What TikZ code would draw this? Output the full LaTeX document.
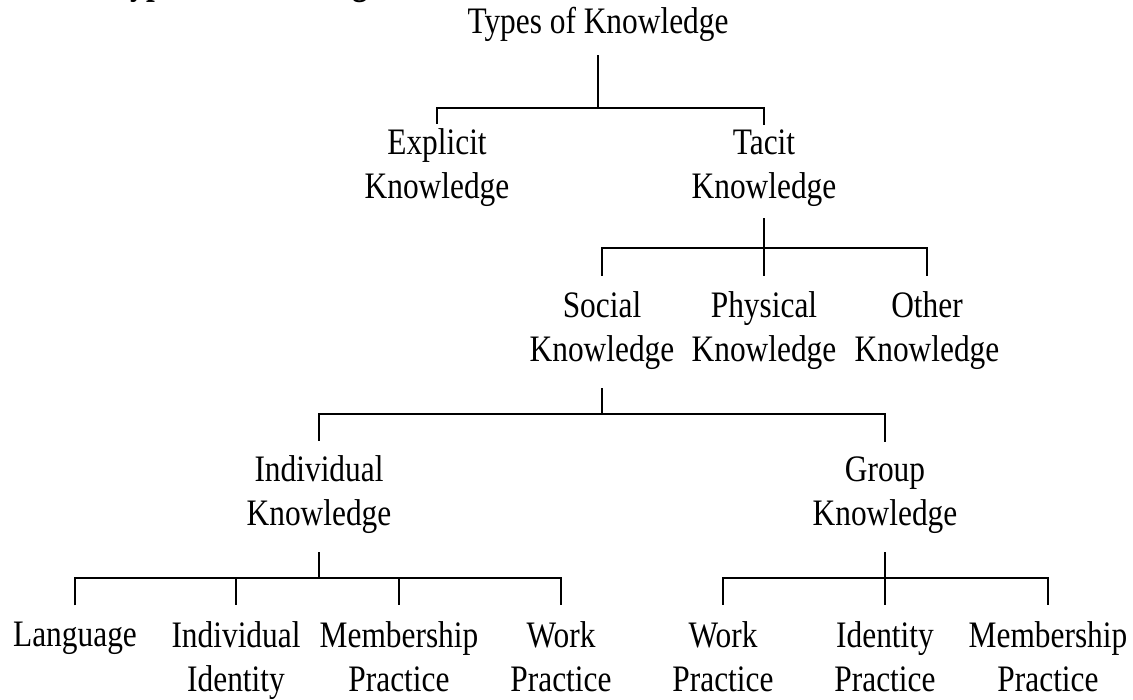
\documentclass[tikz,border=0pt]{standalone}
\usepackage{fontspec}
\setmainfont[FakeStretch=0.84]{Liberation Serif}
\usepackage{tikz}
\usetikzlibrary{calc}

\tikzset{
  lbl/.style={inner sep=0pt, anchor=base, align=center,
    font=\fontsize{37.5pt}{44.2pt}\selectfont},
  branch/.style={line width=2.5bp, line join=miter, line cap=butt},
}

\begin{document}
\begin{tikzpicture}[line join=bevel,]
%%
\clip[use as bounding box] (0bp,0bp) rectangle (1133bp,700bp);
\node (caption) at (112bp,705bp) [lbl, anchor=base west, font=\fontsize{37.5pt}{44.2pt}\selectfont\bfseries] {Types of Knowledge};
  \node (root) at (598bp,666bp) [lbl] {Types of Knowledge};
  \node (explicit) at (437bp,501bp) [lbl] {Explicit\\Knowledge};
  \node (tacit) at (764bp,501bp) [lbl] {Tacit\\Knowledge};
  \node (social) at (602bp,338bp) [lbl] {Social\\Knowledge};
  \node (physical) at (764bp,338bp) [lbl] {Physical\\Knowledge};
  \node (other) at (927bp,338bp) [lbl] {Other\\Knowledge};
  \node (indiv) at (319bp,174bp) [lbl] {Individual\\Knowledge};
  \node (group) at (885bp,174bp) [lbl] {Group\\Knowledge};
  \node (lang) at (75bp,53bp) [lbl] {Language};
  \node (iident) at (236bp,8bp) [lbl] {Individual\\Identity};
  \node (imember) at (399bp,8bp) [lbl] {Membership\\Practice};
  \node (iwork) at (561bp,8bp) [lbl] {Work\\Practice};
  \node (gwork) at (723bp,8bp) [lbl] {Work\\Practice};
  \node (gident) at (885bp,8bp) [lbl] {Identity\\Practice};
  \node (gmember) at (1048bp,8bp) [lbl] {Membership\\Practice};
  \coordinate (bar0) at (598bp,592bp);
  \coordinate (bar1) at (764bp,452bp);
  \coordinate (bar2) at (602bp,286bp);
  \coordinate (bar3) at (319bp,122bp);
  \coordinate (bar4) at (885bp,122bp);
  % level 1
  \draw [branch] ([yshift=-13bp]root.south) -- (bar0);
  \draw [branch] ([yshift=5bp]explicit.north) |- (bar0) -| ([yshift=5bp]tacit.north);
  % level 2
  \draw [branch] ([yshift=-11bp]tacit.south) -- (bar1);
  \draw [branch] ([yshift=16bp]social.north) |- (bar1) -| ([yshift=16bp]other.north);
  \draw [branch] (bar1) -- ([yshift=16bp]physical.north);
  % level 3
  \draw [branch] ([yshift=-18bp]social.south) -- (bar2);
  \draw [branch] ([yshift=15bp]indiv.north) |- (bar2) -| ([yshift=15bp]group.north);
  % level 4
  \draw [branch] ([yshift=-18bp]indiv.south) -- (bar3);
  \draw [branch] ([yshift=17bp]lang.north) |- (bar3) -| ([yshift=17bp]iwork.north);
  \draw [branch] (iident.north |- bar3) -- ([yshift=17bp]iident.north);
  \draw [branch] (imember.north |- bar3) -- ([yshift=17bp]imember.north);
  \draw [branch] ([yshift=-18bp]group.south) -- (bar4);
  \draw [branch] ([yshift=17bp]gwork.north) |- (bar4) -| ([yshift=17bp]gmember.north);
  \draw [branch] (bar4) -- ([yshift=17bp]gident.north);
%
\end{tikzpicture}
\end{document}
